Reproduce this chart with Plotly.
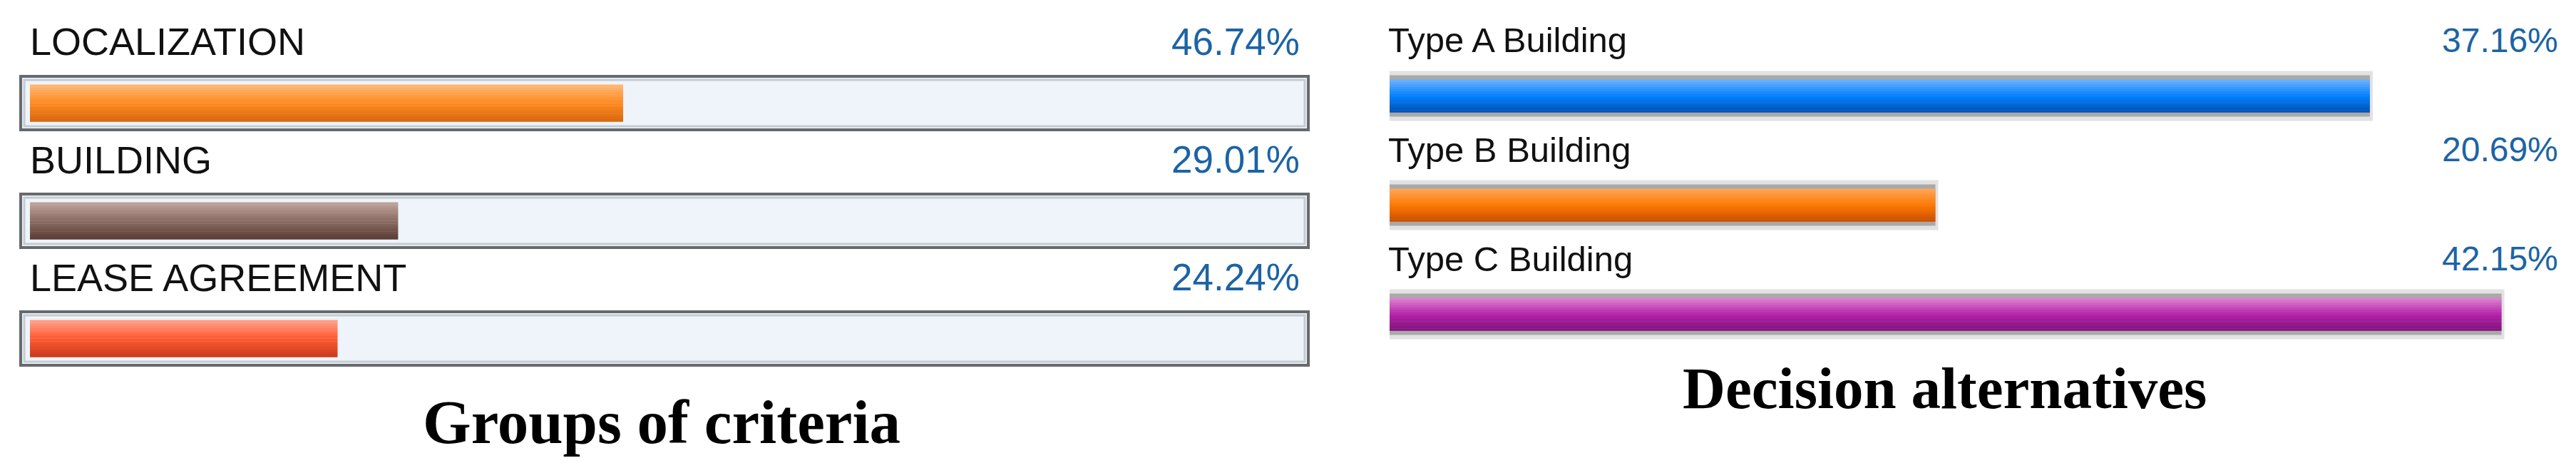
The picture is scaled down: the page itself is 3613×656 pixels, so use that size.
import plotly.graph_objects as go

# left panel: groups of criteria
groups = ["LOCALIZATION", "BUILDING", "LEASE AGREEMENT"]
group_pct = [46.74, 29.01, 24.24]

# right panel: decision alternatives
alternatives = ["Type A Building", "Type B Building", "Type C Building"]
alt_pct = [37.16, 20.69, 42.15]

titles = ["Groups of criteria", "Decision alternatives"]

# gradient stops, top -> middle -> bottom
group_colors = [
    ["#ffb878", "#ff8a20", "#d6670e"],
    ["#c0a59d", "#8c6c62", "#5a3d35"],
    ["#ffa28c", "#ff5a32", "#c93a1d"],
]
alt_colors = [
    ["#70b2ff", "#0082ff", "#004fb2"],
    ["#ffa85c", "#ff7800", "#c94d00"],
    ["#de88d2", "#b522a9", "#80127a"],
]

W, H = 3613, 656
OFF = 8   # page body margin the figure sits in
N = 14    # strips per bar to fake the vertical gradient


def px(p):
    return (p - OFF) / W


def py(p):
    return 1 - (p - OFF) / H


def mix(c1, c2, t):
    a = [int(c1[i:i + 2], 16) for i in (1, 3, 5)]
    b = [int(c2[i:i + 2], 16) for i in (1, 3, 5)]
    return "#%02x%02x%02x" % tuple(round(a[k] + (b[k] - a[k]) * t) for k in range(3))


def grad(stops, t):
    if t < 0.5:
        return mix(stops[0], stops[1], t / 0.5)
    return mix(stops[1], stops[2], (t - 0.5) / 0.5)


def strips(x, y, stops, h, xa, ya):
    out = []
    for i in range(N):
        t = (i + 0.5) / N
        out.append(go.Bar(
            x=x, y=y, orientation="h", xaxis=xa, yaxis=ya,
            width=h / N * 1.08, offset=-h / 2 + i * h / N,
            marker=dict(color=[grad(s, t) for s in stops], line=dict(width=0)),
            showlegend=False, hoverinfo="skip"))
    return out


fig = go.Figure()

# left: fills inside framed tracks
fig.add_traces(strips(group_pct, groups, group_colors, 52 / 165, "x", "y"))

# right: grey halo then coloured bar
fig.add_trace(go.Bar(x=alt_pct, y=alternatives, orientation="h", xaxis="x2", yaxis="y2",
                     width=62 / 153, marker=dict(color="#d9d9d9", line=dict(color="#e2e2e2", width=8)),
                     showlegend=False, hoverinfo="skip"))
fig.add_trace(go.Bar(x=alt_pct, y=alternatives, orientation="h", xaxis="x2", yaxis="y2",
                     width=58 / 153, marker=dict(color="#a9a9a9", line=dict(width=0)),
                     showlegend=False, hoverinfo="skip"))
fig.add_traces(strips(alt_pct, alternatives, alt_colors, 46 / 153, "x2", "y2"))

shapes = []
fh = 75 / 165 / 2
for i in range(len(groups)):
    shapes.append(dict(type="rect", xref="x domain", yref="y", x0=0, x1=1,
                       y0=i - fh, y1=i + fh, layer="below",
                       line=dict(color="#66696d", width=4), fillcolor="#eef4f9"))
    shapes.append(dict(type="rect", xref="x domain", yref="y", x0=5 / 1806, x1=1 - 5 / 1806,
                       y0=i - fh + 5 / 165, y1=i + fh - 5 / 165, layer="below",
                       line=dict(color="#c4ccd2", width=3), fillcolor="rgba(0,0,0,0)"))

ann = []
for i, (g, v) in enumerate(zip(groups, group_pct)):
    ann.append(dict(text=g, xref="x domain", yref="y", x=11 / 1806, y=i, yshift=86,
                    xanchor="left", yanchor="middle", showarrow=False,
                    font=dict(family="Liberation Sans", size=54, color="#111111")))
    ann.append(dict(text=f"{v:.2f}%", xref="x domain", yref="y", x=1796 / 1806, y=i, yshift=86,
                    xanchor="right", yanchor="middle", showarrow=False,
                    font=dict(family="Liberation Sans", size=53, color="#1c64a4")))
for i, (a, v) in enumerate(zip(alternatives, alt_pct)):
    ann.append(dict(text=a, xref="x2 domain", yref="y2", x=-4 / 1641, y=i, yshift=78,
                    xanchor="left", yanchor="middle", showarrow=False,
                    font=dict(family="Liberation Sans", size=49, color="#111111")))
    ann.append(dict(text=f"{v:.2f}%", xref="x2 domain", yref="y2", x=1, y=i, yshift=78,
                    xanchor="right", yanchor="middle", showarrow=False,
                    font=dict(family="Liberation Sans", size=48, color="#1c64a4")))

ann.append(dict(text="<b>" + titles[0] + "</b>", xref="paper", yref="paper", x=px(928), y=py(591),
                xanchor="center", yanchor="middle", showarrow=False,
                font=dict(family="Liberation Serif", size=87, color="#000000")))
ann.append(dict(text="<b>" + titles[1] + "</b>", xref="paper", yref="paper", x=px(2727), y=py(544),
                xanchor="center", yanchor="middle", showarrow=False,
                font=dict(family="Liberation Serif", size=83, color="#000000")))

fig.update_layout(
    width=W, height=H, margin=dict(l=0, r=0, t=0, b=0),
    paper_bgcolor="white", plot_bgcolor="white",
    barmode="overlay", showlegend=False,
    shapes=shapes, annotations=ann,
    xaxis=dict(domain=[px(29), px(1835)], range=[-13 / 17.8, 100 + 13 / 17.8], visible=False, fixedrange=True),
    yaxis=dict(domain=[py(557), py(62)], type="category", categoryorder="array",
               categoryarray=groups, range=[2.5, -0.5], visible=False, fixedrange=True),
    xaxis2=dict(domain=[px(1949), px(3590)], range=[0, 1641 / 37], anchor="y2", visible=False, fixedrange=True),
    yaxis2=dict(domain=[py(517), py(58)], type="category", categoryorder="array",
                categoryarray=alternatives, range=[2.5, -0.5], anchor="x2", visible=False, fixedrange=True),
)

fig.write_html("out.html")
